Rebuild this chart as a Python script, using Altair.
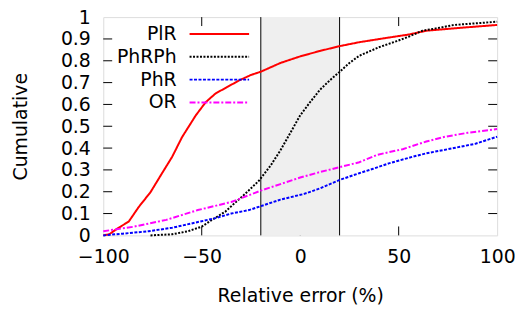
import altair as alt
import pandas as pd

# ---- data ----
series_names = ["PlR", "PhRPh", "PhR", "OR"]
series_colors = ["#ff0000", "#000000", "#0000ff", "#ff00ff"]
series_dashes = [[1, 0], [2, 1.5], [3, 1.5], [6, 2, 2, 2]]

plr_x = [-100, -97, -93, -87, -82, -76, -70, -65, -60, -53, -48, -43, -37, -31, -25, -20,
         -10, 0, 4, 10, 20, 30, 44, 55, 64, 80, 100]
plr_y = [0, 0.005, 0.03, 0.064, 0.13, 0.198, 0.287, 0.36, 0.45, 0.55, 0.61, 0.65, 0.68,
         0.71, 0.735, 0.75, 0.79, 0.82, 0.83, 0.845, 0.867, 0.885, 0.905, 0.92, 0.9375, 0.95, 0.964]

phrph_x = [-76, -65, -57, -50, -45, -38, -33, -28, -21, -15, -10, -5, 0, 5, 10, 15, 20, 25,
           30, 40, 49, 55, 62, 70, 78, 90, 100]
phrph_y = [0, 0.005, 0.019, 0.04, 0.07, 0.109, 0.15, 0.19, 0.25, 0.32, 0.39, 0.47, 0.55,
           0.61, 0.667, 0.71, 0.749, 0.79, 0.823, 0.862, 0.89, 0.91, 0.9375, 0.95, 0.964, 0.972, 0.979]

phr_x = [-100, -90, -77, -65, -58, -50, -43, -35, -26, -20, -10, 2, 10, 20, 30, 37, 45, 57,
         64, 78, 89, 100]
phr_y = [0, 0.008, 0.019, 0.035, 0.049, 0.065, 0.079, 0.1, 0.116, 0.134, 0.164, 0.19, 0.215,
         0.254, 0.285, 0.305, 0.33, 0.36, 0.376, 0.40, 0.42, 0.452]

or_x = [-100, -85, -68, -52, -35, -20, -10, 0, 10, 20, 30, 39, 52, 64, 73, 85, 100]
or_y = [0.019, 0.039, 0.071, 0.116, 0.153, 0.205, 0.235, 0.265, 0.29, 0.3125, 0.335, 0.369,
        0.395, 0.43, 0.451, 0.47, 0.487]

band_lo = [-20]
band_hi = [20]
x_ticks = [-100, -50, 0, 50, 100]
y_ticks = [0, 0.1, 0.2, 0.3, 0.4, 0.5, 0.6, 0.7, 0.8, 0.9, 1]

W, H = 397, 220
FONT = "DejaVu Sans"
FS = 19

rows = []
for name, xs, ys in zip(series_names, [plr_x, phrph_x, phr_x, or_x], [plr_y, phrph_y, phr_y, or_y]):
    for i, (a, b) in enumerate(zip(xs, ys)):
        rows.append({"series": name, "x": a, "y": b, "i": i})
df = pd.DataFrame(rows)

xscale = alt.Scale(domain=[-100, 100], nice=False, zero=False)
yscale = alt.Scale(domain=[0, 1], nice=False)

xaxis = alt.Axis(values=x_ticks, tickSize=0, domain=False, grid=False, labelFontSize=FS,
                 labelFont=FONT, labelPadding=12, labelColor="black", title="Relative error (%)",
                 titleFont=FONT, titleFontSize=FS, titleFontWeight="normal", titlePadding=21,
                 titleColor="black", labelFlush=False, labelOverlap=False)
yaxis = alt.Axis(values=y_ticks, tickSize=0, domain=False, grid=False, labelFontSize=FS,
                 labelFont=FONT, labelPadding=13, labelColor="black", format="~g",
                 labelOverlap=False, labelFlush=False, labelBound=False,
                 title="Cumulative", titleFont=FONT, titleFontSize=FS, titleFontWeight="normal",
                 titlePadding=30, titleColor="black")

# inward ticks
xt_df = pd.DataFrame({"xt": x_ticks[1:-1]})
yt_df = pd.DataFrame({"yt": y_ticks[1:-1]})
xt_bottom = alt.Chart(xt_df).mark_rule(color="black", strokeWidth=1).encode(
    x=alt.X("xt:Q", scale=xscale, axis=xaxis), y=alt.value(H), y2=alt.value(H - 9))
xt_top = alt.Chart(xt_df).mark_rule(color="black", strokeWidth=1).encode(
    x=alt.X("xt:Q", scale=xscale, axis=xaxis), y=alt.value(0), y2=alt.value(9))
yt_left = alt.Chart(yt_df).mark_rule(color="black", strokeWidth=1).encode(
    y=alt.Y("yt:Q", scale=yscale, axis=yaxis), x=alt.value(0), x2=alt.value(9))
yt_right = alt.Chart(yt_df).mark_rule(color="black", strokeWidth=1).encode(
    y=alt.Y("yt:Q", scale=yscale, axis=yaxis), x=alt.value(W - 9), x2=alt.value(W))

band_df = pd.DataFrame({"lo": band_lo, "hi": band_hi})
band = alt.Chart(band_df).mark_rect(fill="#efefef").encode(
    x=alt.X("lo:Q", scale=xscale, axis=xaxis), x2="hi:Q", y=alt.value(0), y2=alt.value(H))
edge_df = pd.DataFrame({"e": band_lo + band_hi})
edges = alt.Chart(edge_df).mark_rule(color="black", strokeWidth=1).encode(
    x=alt.X("e:Q", scale=xscale, axis=xaxis), y=alt.value(0), y2=alt.value(H))

lines = alt.Chart(df).mark_line(strokeWidth=2, interpolate="linear").encode(
    x=alt.X("x:Q", scale=xscale, axis=xaxis),
    y=alt.Y("y:Q", scale=yscale, axis=yaxis),
    color=alt.Color("series:N", scale=alt.Scale(domain=series_names, range=series_colors), legend=None),
    strokeDash=alt.StrokeDash("series:N", scale=alt.Scale(domain=series_names, range=series_dashes), legend=None),
    detail="series:N",
    order="i:Q",
)

legend_layers = []
for k, (name, col, dash) in enumerate(zip(series_names, series_colors, series_dashes)):
    yy = 17 + k * 23
    ldf = pd.DataFrame({"label": [name]})
    legend_layers.append(
        alt.Chart(ldf).mark_text(align="right", baseline="middle", font=FONT, fontSize=FS,
                                 color="black").encode(
            text="label:N", x=alt.value(74), y=alt.value(yy)))
    legend_layers.append(
        alt.Chart(ldf).mark_rule(color=col, strokeWidth=2, strokeDash=dash).encode(
            x=alt.value(87), x2=alt.value(147), y=alt.value(yy)))

chart = alt.layer(xt_bottom, xt_top, yt_left, yt_right, band, edges, lines, *legend_layers).properties(
    width=W, height=H,
    autosize=alt.AutoSizeParams(type="none"),
    padding={"left": 96, "top": 8, "right": 18, "bottom": 72},
).configure_view(stroke="black", strokeWidth=1.2).configure(background="white")

chart.save("out.html", embed_options={"renderer": "svg", "actions": False})
